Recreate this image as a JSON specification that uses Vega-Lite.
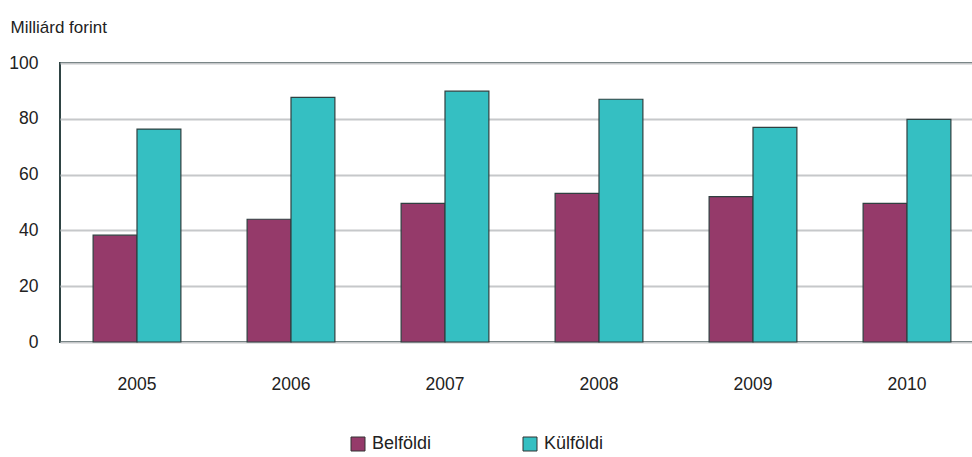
{
  "$schema": "https://vega.github.io/schema/vega-lite/v6.json",
  "autosize": "none",
  "width": 924,
  "height": 279,
  "padding": {"left": 60, "top": 63, "right": 0, "bottom": 115},
  "background": "white",
  "config": {
    "font": "Liberation Sans",
    "view": {"stroke": "#2F4444", "strokeWidth": 2}
  },
  "data": {
    "values": [
      {"year": "2005", "type": "Belföldi", "value": 38.3},
      {"year": "2005", "type": "Külföldi", "value": 76.3},
      {"year": "2006", "type": "Belföldi", "value": 44.0},
      {"year": "2006", "type": "Külföldi", "value": 87.7},
      {"year": "2007", "type": "Belföldi", "value": 49.7},
      {"year": "2007", "type": "Külföldi", "value": 89.9},
      {"year": "2008", "type": "Belföldi", "value": 53.3},
      {"year": "2008", "type": "Külföldi", "value": 87.0},
      {"year": "2009", "type": "Belföldi", "value": 52.1},
      {"year": "2009", "type": "Külföldi", "value": 76.9},
      {"year": "2010", "type": "Belföldi", "value": 49.7},
      {"year": "2010", "type": "Külföldi", "value": 79.8}
    ]
  },
  "mark": {"type": "bar", "stroke": "#2F4040", "strokeWidth": 1.2},
  "encoding": {
    "x": {
      "field": "year",
      "type": "nominal",
      "scale": {"paddingInner": 0.43, "paddingOuter": 0.215},
      "axis": {
        "title": null,
        "labelAngle": 0,
        "labelFontSize": 17.5,
        "labelColor": "#222222",
        "labelPadding": 33,
        "ticks": false,
        "domain": false,
        "grid": false
      }
    },
    "xOffset": {"field": "type", "type": "nominal", "sort": ["Belföldi", "Külföldi"]},
    "y": {
      "field": "value",
      "type": "quantitative",
      "scale": {"domain": [0, 100]},
      "axis": {
        "title": "Milliárd forint",
        "titleAngle": 0,
        "titleAlign": "left",
        "titleBaseline": "alphabetic",
        "titleX": -50,
        "titleY": -31,
        "titleFontSize": 17,
        "titleFontWeight": "normal",
        "titleColor": "#222222",
        "values": [0, 20, 40, 60, 80, 100],
        "labelFontSize": 17.5,
        "labelColor": "#222222",
        "labelPadding": 22,
        "ticks": false,
        "domain": false,
        "gridColor": "#C6C8CA",
        "gridWidth": 2
      }
    },
    "color": {
      "field": "type",
      "type": "nominal",
      "scale": {"domain": ["Belföldi", "Külföldi"], "range": ["#953A6A", "#35BFC2"]},
      "legend": {
        "title": null,
        "orient": "none",
        "direction": "horizontal",
        "legendX": 289,
        "legendY": 372,
        "symbolType": "square",
        "symbolSize": 196,
        "symbolStrokeColor": "#333333",
        "symbolStrokeWidth": 1,
        "labelFontSize": 18,
        "labelColor": "#222222",
        "labelOffset": 5,
        "columnPadding": 89
      }
    }
  }
}
